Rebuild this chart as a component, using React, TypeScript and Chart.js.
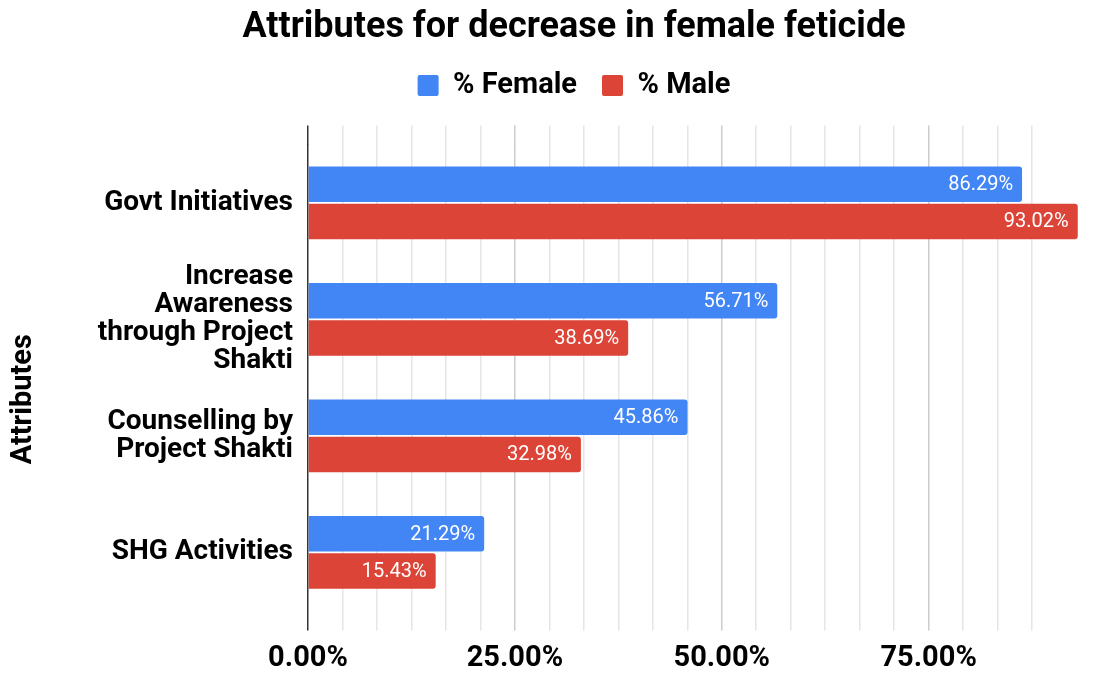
import React, { useEffect, useRef } from "react";
import { Chart, registerables } from "chart.js";

Chart.register(...registerables);

const categories: string[][] = [
  ["Govt Initiatives"],
  ["Increase", "Awareness", "through Project", "Shakti"],
  ["Counselling by", "Project Shakti"],
  ["SHG Activities"],
];
const femaleValues = [86.29, 56.71, 45.86, 21.29];
const maleValues = [93.02, 38.69, 32.98, 15.43];
const seriesNames = ["% Female", "% Male"];
const majorTicks = [0, 25, 50, 75];

const FONT = "Roboto, 'Noto Sans', sans-serif";
const AXIS_MAX = 93.05;
const STEP = 25 / 6;

const isMajor = (v: number) => majorTicks.some((m) => Math.abs(m - v) < 1e-6);

const gridColor = (ctx: any) => {
  const v = ctx.tick ? ctx.tick.value : null;
  if (v === null || v === undefined) return "rgba(0,0,0,0)";
  if (Math.abs(v) < 1e-6) return "#333333";
  if (isMajor(v)) return "#cccccc";
  return "#e6e6e6";
};

const filterTicks = (scale: any) => {
  scale.ticks = scale.ticks.filter((t: any) => t.value <= 92);
};

const dataLabelPlugin = {
  id: "barValueLabels",
  afterDatasetsDraw(chart: any) {
    const ctx = chart.ctx;
    ctx.save();
    ctx.font = `400 20px ${FONT}`;
    ctx.fillStyle = "#ffffff";
    ctx.textAlign = "right";
    ctx.textBaseline = "middle";
    chart.data.datasets.forEach((ds: any, i: number) => {
      const meta = chart.getDatasetMeta(i);
      meta.data.forEach((bar: any, j: number) => {
        const v = ds.data[j] as number;
        ctx.fillText(v.toFixed(2) + "%", bar.x - 9, bar.y + 1);
      });
    });
    ctx.restore();
  },
};

export default function App() {
  const canvasRef = useRef<HTMLCanvasElement | null>(null);

  useEffect(() => {
    if (!canvasRef.current) return;
    const chart = new Chart(canvasRef.current, {
      type: "bar",
      data: {
        labels: categories,
        datasets: [
          {
            label: seriesNames[0],
            data: femaleValues,
            backgroundColor: "#4285F4",
            borderRadius: 3,
            categoryPercentage: 0.64,
            barPercentage: 0.95,
          },
          {
            label: seriesNames[1],
            data: maleValues,
            backgroundColor: "#DB4437",
            borderRadius: 3,
            categoryPercentage: 0.64,
            barPercentage: 0.95,
          },
        ],
      },
      options: {
        indexAxis: "y",
        animation: false,
        responsive: true,
        maintainAspectRatio: false,
        layout: { padding: { left: 70, right: 17, top: 0, bottom: -11.5 } },
        plugins: {
          title: {
            display: true,
            text: "Attributes for decrease in female feticide",
            color: "#000000",
            font: { family: FONT, size: 36, weight: "bold", lineHeight: 1.0 },
            padding: { top: 10, bottom: 0 },
          },
          legend: {
            display: true,
            position: "top",
            labels: {
              boxWidth: 21,
              boxHeight: 21,
              padding: 25,
              color: "#000000",
              font: { family: FONT, size: 29, weight: "bold" },
              useBorderRadius: true,
              borderRadius: 2,
            },
          },
          tooltip: { enabled: false },
        },
        scales: {
          x: {
            type: "linear",
            position: "bottom",
            min: 0,
            max: AXIS_MAX,
            afterBuildTicks: filterTicks,
            border: { display: false },
            grid: {
              color: gridColor,
              lineWidth: 1.5,
              drawTicks: true,
              tickLength: 20,
            },
            ticks: {
              stepSize: STEP,
              autoSkip: false,
              maxRotation: 0,
              padding: 12,
              color: "#000000",
              font: { family: FONT, size: 29, weight: "bold", lineHeight: 1.1 },
              callback: (v: any) => (isMajor(Number(v)) ? Number(v).toFixed(2) + "%" : ""),
            },
          },
          x2: {
            type: "linear",
            axis: "x",
            position: "top",
            min: 0,
            max: AXIS_MAX,
            afterBuildTicks: filterTicks,
            border: { display: false },
            grid: {
              color: gridColor,
              lineWidth: 1.5,
              drawOnChartArea: false,
              drawTicks: true,
              tickLength: 19,
            },
            ticks: {
              stepSize: STEP,
              display: true,
              autoSkip: false,
              maxRotation: 0,
              padding: 0,
              font: { family: FONT, size: 13, lineHeight: 1.2 },
              callback: () => "",
            },
          },
          y: {
            type: "category",
            afterFit: (scale: any) => {
              scale.width = 238;
            },
            border: { display: false },
            grid: { display: false, drawTicks: false },
            ticks: {
              autoSkip: false,
              padding: 15,
              color: "#000000",
              font: { family: FONT, size: 28, weight: "bold", lineHeight: 1.0 },
            },
            title: {
              display: true,
              text: "Attributes      ",
              color: "#000000",
              font: { family: FONT, size: 29, weight: "bold", lineHeight: 1.2 },
              padding: { top: -63.4, bottom: 0 },
            },
          },
        },
      },
      plugins: [dataLabelPlugin],
    });
    return () => chart.destroy();
  }, []);

  return (
    <div style={{ position: "absolute", left: 0, top: 0, width: 1095, height: 675, background: "#fff" }}>
      <canvas ref={canvasRef} />
    </div>
  );
}
